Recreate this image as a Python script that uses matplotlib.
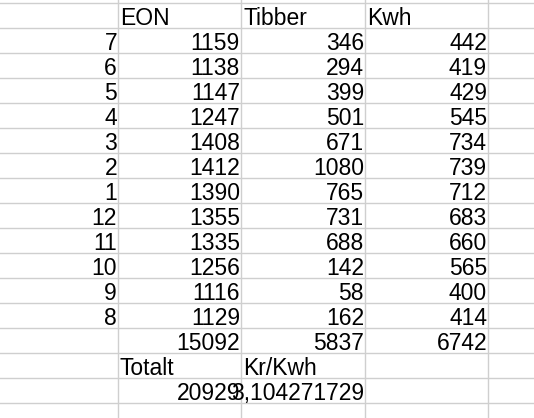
import matplotlib.pyplot as plt

months = ['7', '6', '5', '4', '3', '2', '1', '12', '11', '10', '9', '8']
eon = [1159, 1138, 1147, 1247, 1408, 1412, 1390, 1355, 1335, 1256, 1116, 1129]
tibber = [346, 294, 399, 501, 671, 1080, 765, 731, 688, 142, 58, 162]
kwh = [442, 419, 429, 545, 734, 739, 712, 683, 660, 565, 400, 414]
totals = [15092, 5837, 6742]
totalt = 20929
kr_per_kwh = '3,104271729'

W, H = 534, 418
fig = plt.figure(figsize=(W / 100, H / 100), dpi=100)
ax = fig.add_axes([0, 0, 1, 1])
ax.set_xlim(0, W)
ax.set_ylim(H, 0)
ax.axis('off')

col_x = [0, 118, 241, 365, 488, W]
row_h = 25
top = 3
grid = '#cfcfcf'
for x in col_x[1:-1]:
    ax.axvline(x, color=grid, lw=1)
for i in range(17):
    ax.axhline(top + i * row_h, color=grid, lw=1)

fs = 16.5
font = dict(fontsize=fs, family=['Liberation Sans', 'DejaVu Sans'], va='baseline')

def row_y(i):
    return top + (i + 1) * row_h - 3

def left(col, i, text):
    ax.text(col_x[col] + 2, row_y(i), text, ha='left', **font)

def right(col, i, text):
    ax.text(col_x[col + 1] - 1, row_y(i), str(text), ha='right', **font)

left(1, 0, 'EON')
left(2, 0, 'Tibber')
left(3, 0, 'Kwh')
for i, m in enumerate(months):
    r = i + 1
    right(0, r, m)
    right(1, r, eon[i])
    right(2, r, tibber[i])
    right(3, r, kwh[i])
for c, v in enumerate(totals):
    right(c + 1, 13, v)
left(1, 14, 'Totalt')
left(2, 14, 'Kr/Kwh')
right(1, 15, totalt)
right(2, 15, kr_per_kwh)

fig.savefig('out.png', dpi=100)
